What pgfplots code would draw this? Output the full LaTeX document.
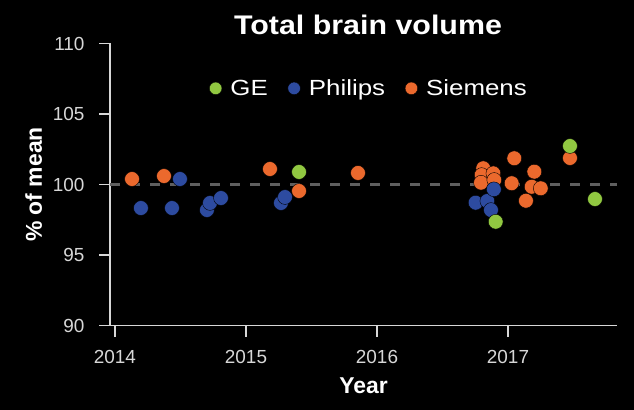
\documentclass[border=0pt]{standalone}
\usepackage{pgfplots}
\pgfplotsset{compat=1.18}
\usepackage{fontspec}
\setmainfont{Liberation Sans}
\newfontfamily\titlefont[FakeStretch=1.13]{Liberation Sans}
\newfontfamily\legfont[FakeStretch=1.18]{Liberation Sans}
\definecolor{geg}{RGB}{145,200,65}
\definecolor{phb}{RGB}{45,75,160}
\definecolor{sio}{RGB}{235,105,45}
\definecolor{axc}{RGB}{215,215,215}
\definecolor{dashc}{RGB}{95,95,95}
\begin{document}
\begin{tikzpicture}
\fill[black] (-110bp,-84.5bp) rectangle (524bp,325.5bp);
\begin{axis}[
  at={(0,0)}, anchor=south west,
  scale only axis, width=507bp, height=282bp,
  xmin=2013.962, xmax=2017.832, ymin=90, ymax=110,
  axis x line=bottom, axis y line=left,
  axis line style={axc, line width=1.6bp, -},
  xtick={2014,2015,2016,2017}, ytick={90,95,100,105,110},
  minor tick num=0,
  tick align=outside, major tick length=11bp,
  every tick/.style={axc, line width=1.6bp},
  /pgf/number format/assume math mode=true,
  x tick label style={/pgf/number format/1000 sep={}},
  tick label style={font=\fontsize{19}{19}\selectfont, text=axc},
  yticklabel style={xshift=-11bp},
  xticklabel style={yshift=-10bp},
  xlabel={Year}, ylabel={\% of mean},
  xlabel style={at={(axis description cs:0.5,0)}, anchor=base, yshift=-67.5bp,
    font=\bfseries\fontsize{23}{23}\selectfont, text=white},
  ylabel style={at={(axis description cs:0,0.5)}, anchor=base, yshift=68bp,
    font=\bfseries\fontsize{23}{23}\selectfont, text=white},
  legend columns=3,
  legend image code/.code={\draw[#1, mark size=6.3bp] plot coordinates {(0bp,0bp)};},
  legend style={at={(0.511,0.841)}, anchor=center, draw=none, fill=none,
    text=white, font=\legfont\fontsize{22}{22}\selectfont,
    /tikz/every odd column/.append style={column sep=6.5bp},
    /tikz/every even column/.append style={column sep=18bp}},
]
\addlegendimage{only marks, mark=*, mark options={fill=geg, draw=black, line width=0.4bp}}
\addlegendentry{GE}
\addlegendimage{only marks, mark=*, mark options={fill=phb, draw=black, line width=0.4bp}}
\addlegendentry{Philips}
\addlegendimage{only marks, mark=*, mark options={fill=sio, draw=black, line width=0.4bp}}
\addlegendentry{Siemens}

\addplot[dashc, line width=2.5bp, dash pattern=on 10bp off 10bp, forget plot]
  coordinates {(2013.962,100) (2017.832,100)};

% Siemens
\addplot[only marks, mark=*, mark size=7.4bp, mark options={fill=sio, draw=black, line width=0.4bp}, forget plot]
  coordinates {
  (2014.130,100.39) (2014.374,100.60) (2015.183,101.10) (2015.405,99.54)
  (2015.855,100.82) (2016.811,101.15) (2016.799,100.67) (2016.888,100.79)
  (2016.794,100.13) (2016.895,100.32) (2017.048,101.86) (2017.028,100.09)
  (2017.201,100.91) (2017.181,99.84) (2017.250,99.73) (2017.137,98.85)
  (2017.473,101.88)
  };
% Philips
\addplot[only marks, mark=*, mark size=7.4bp, mark options={fill=phb, draw=black, line width=0.4bp}, forget plot]
  coordinates {
  (2014.198,98.33) (2014.435,98.33) (2014.496,100.39) (2014.702,98.19)
  (2014.725,98.69) (2014.809,99.04) (2015.267,98.69) (2015.298,99.11)
  (2016.753,98.71) (2016.842,98.83) (2016.870,98.19) (2016.892,99.66)
  };
% GE
\addplot[only marks, mark=*, mark size=7.4bp, mark options={fill=geg, draw=black, line width=0.4bp}, forget plot]
  coordinates {
  (2015.405,100.89) (2016.906,97.36) (2017.473,102.73) (2017.664,98.97)
  };
\end{axis}
\node[anchor=base, text=white, font=\titlefont\bfseries\fontsize{27}{27}\selectfont]
  at (258bp,291.2bp) {Total brain volume};
\pgfresetboundingbox
\path[use as bounding box] (-110bp,-84.5bp) rectangle (524bp,325.5bp);
\end{tikzpicture}
\end{document}
